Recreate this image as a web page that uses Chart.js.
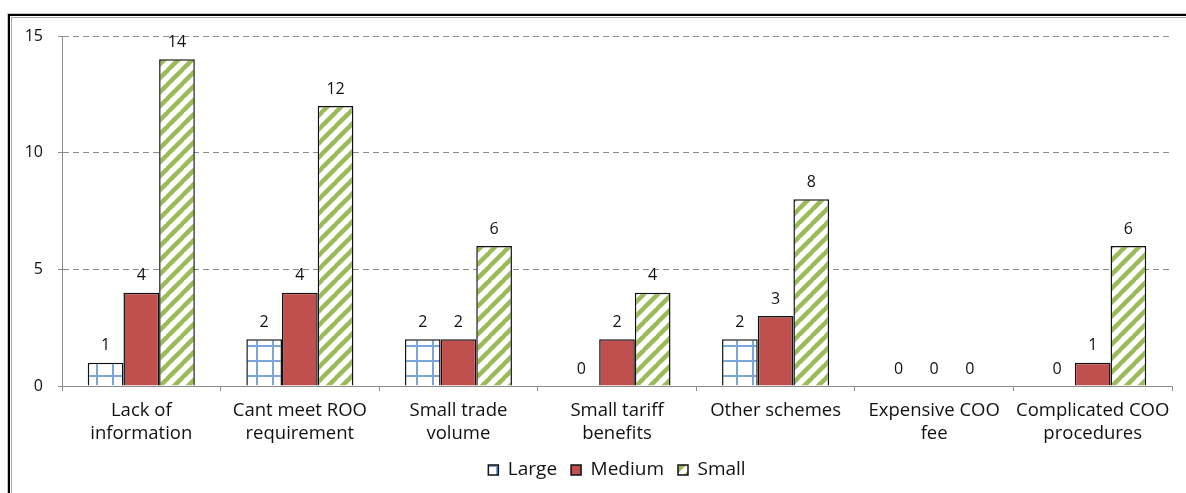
<!DOCTYPE html>
<html>
<head>
<meta charset="utf-8">
<script src="https://cdn.jsdelivr.net/npm/chart.js@4"></script>
<style>
  html, body { margin: 0; padding: 0; background: #fff; overflow: hidden; }
  #wrap { position: relative; width: 1186px; height: 493px; }
  #chart { position: absolute; left: 0; top: 0; }
  #frame {
    position: absolute; left: 8px; top: 14px; width: 1240px; height: 540px;
    border: 2px solid #000;
    box-shadow: inset 1px 1px 0 0 #fff, inset 2px 2px 0 0 #a6a6a6, -1px -1px 0 0 #c8c8c8;
    pointer-events: none;
  }
</style>
</head>
<body>
<div id="wrap">
  <canvas id="chart" width="1186" height="493"></canvas>
  <div id="frame"></div>
</div>
<script>
const categories = [
  ["Lack of", "information"],
  ["Cant meet ROO", "requirement"],
  ["Small trade", "volume"],
  ["Small tariff", "benefits"],
  ["Other schemes"],
  ["Expensive COO", "fee"],
  ["Complicated COO", "procedures"]
];
const largeValues = [1, 2, 2, 0, 2, 0, 0];
const mediumValues = [4, 4, 2, 2, 3, 0, 1];
const smallValues = [14, 12, 6, 4, 8, 0, 6];
const yTicks = [0, 5, 10, 15];

const FONT = "'Open Sans', sans-serif";

// white tile with a light blue grid
function gridPattern(ctx) {
  const c = document.createElement("canvas");
  c.width = 16; c.height = 15;
  const g = c.getContext("2d");
  g.fillStyle = "#fff";
  g.fillRect(0, 0, 16, 15);
  g.fillStyle = "#7aa6dc";
  g.fillRect(0, 0, 2, 15);
  g.fillRect(0, 0, 16, 2);
  return ctx.createPattern(c, "repeat");
}

// white tile with green "/" stripes
function stripePattern(ctx) {
  const s = 14;
  const c = document.createElement("canvas");
  c.width = s; c.height = s;
  const g = c.getContext("2d");
  g.fillStyle = "#fff";
  g.fillRect(0, 0, s, s);
  g.strokeStyle = "#9bbb59";
  g.lineWidth = 4.5;
  for (const k of [-s, 0, s]) {
    g.beginPath();
    g.moveTo(k - 1, s + 1);
    g.lineTo(k + s + 1, -1);
    g.stroke();
  }
  return ctx.createPattern(c, "repeat");
}

const valueLabels = {
  id: "valueLabels",
  afterDatasetsDraw(chart) {
    const ctx = chart.ctx;
    ctx.save();
    ctx.font = "16px " + FONT;
    ctx.fillStyle = "#111";
    ctx.textAlign = "center";
    ctx.textBaseline = "middle";
    chart.data.datasets.forEach((ds, i) => {
      chart.getDatasetMeta(i).data.forEach((bar, j) => {
        ctx.fillText(String(ds.data[j]), bar.x, bar.y - 17);
      });
    });
    ctx.restore();
  }
};

const ctx = document.getElementById("chart").getContext("2d");

new Chart(ctx, {
  type: "bar",
  data: {
    labels: categories,
    datasets: [
      {
        label: "Large",
        data: largeValues,
        backgroundColor: gridPattern(ctx),
        borderColor: "#111",
        borderWidth: 1.5
      },
      {
        label: "Medium",
        data: mediumValues,
        backgroundColor: "#c0504d",
        borderColor: "#111",
        borderWidth: 1.5
      },
      {
        label: "Small",
        data: smallValues,
        backgroundColor: stripePattern(ctx),
        borderColor: "#111",
        borderWidth: 1.5
      }
    ]
  },
  options: {
    responsive: false,
    animation: false,
    devicePixelRatio: 1,
    layout: { padding: { left: 0, right: 14, top: 36, bottom: 3.5 } },
    datasets: {
      bar: { categoryPercentage: 0.675, barPercentage: 1 }
    },
    plugins: {
      legend: {
        position: "bottom",
        fullSize: false,
        labels: {
          font: { family: FONT, size: 19 },
          color: "#111",
          boxWidth: 10,
          boxHeight: 10,
          padding: 14
        }
      },
      tooltip: { enabled: false }
    },
    scales: {
      x: {
        grid: {
          drawOnChartArea: false,
          drawTicks: true,
          tickLength: 5,
          color: "#8c8c8c"
        },
        border: { display: true, color: "#8c8c8c", width: 1 },
        ticks: {
          font: { family: FONT, size: 18.5, lineHeight: 1.25 },
          color: "#111",
          padding: 8,
          maxRotation: 0,
          autoSkip: false
        },
        afterFit(scale) { scale.height = 60.5; }
      },
      y: {
        min: 0,
        max: 15,
        afterBuildTicks(scale) {
          scale.ticks = yTicks.map(v => ({ value: v }));
        },
        grid: {
          color: "#8c8c8c",
          tickBorderDash: [],
          tickColor: "#8c8c8c",
          tickLength: 4
        },
        border: { display: true, color: "#8c8c8c", width: 1, dash: [6, 4] },
        ticks: {
          font: { family: FONT, size: 16 },
          color: "#111",
          padding: 15
        },
        afterFit(scale) { scale.width = 62; }
      }
    }
  },
  plugins: [valueLabels]
});
</script>
</body>
</html>
